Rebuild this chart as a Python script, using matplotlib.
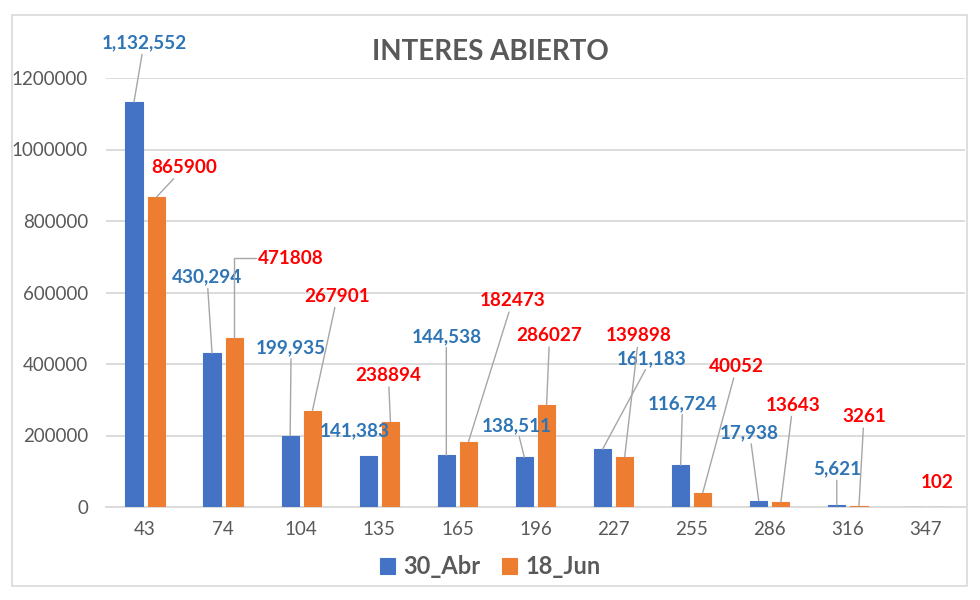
import numpy as np
import matplotlib.pyplot as plt
from matplotlib.patches import Rectangle

plt.rcParams['font.family'] = ['Lato', 'DejaVu Sans']

dias = ['43', '74', '104', '135', '165', '196', '227', '255', '286', '316', '347']
abr_30 = [1132552, 430294, 199935, 141383, 144538, 138511, 161183, 116724, 17938, 5621, 0]
jun_18 = [865900, 471808, 267901, 238894, 182473, 286027, 139898, 40052, 13643, 3261, 102]

# label offsets from bar top, in pixels (dx, dy); None = no label
abr_off = [(10, 59), (-5, 76), (1, 88), (-13, 26), (0, 119), (-8, 32), (49, 91), (2, 62), (-9, 68), (0, 36), None]
abr_lead = [True, True, True, False, True, True, True, True, True, True, False]
jun_off = [(28, 30), (57, 80), (25, 115), (-2, 46), (44, 141), (3, 69), (14, 121), (34, 126), (12, 97), (5, 89), (0, 24)]
jun_lead = [True, 'elbow', True, True, True, True, True, True, True, True, False]

c_abr = '#4472C4'
c_jun = '#ED7D31'
c_lab_abr = '#2E75B6'
c_lab_jun = '#FF0000'
gris = '#595959'

fig = plt.figure(figsize=(9.8, 6), dpi=100)
ax = fig.add_axes([106 / 980, 93 / 600, 859 / 980, 429 / 600])

x = np.arange(len(dias))
w = 0.22
off = 0.142
b1 = ax.bar(x - off, abr_30, w, color=c_abr, edgecolor=c_abr, linewidth=0.8,
            label='30_Abr', zorder=3)
b2 = ax.bar(x + off, jun_18, w, color=c_jun, edgecolor=c_jun, linewidth=0.8,
            label='18_Jun', zorder=3)

ax.set_xlim(-0.5, len(dias) - 0.5)
ax.set_ylim(0, 1200000)
ax.set_yticks(np.arange(0, 1200001, 200000))
ax.set_yticklabels([str(v) for v in range(0, 1200001, 200000)])
ax.set_xticks(x)
ax.set_xticklabels(dias)
ax.tick_params(axis='both', length=0, labelsize=13.5, colors=gris)
ax.tick_params(axis='y', pad=13)
ax.tick_params(axis='x', pad=10)
ax.yaxis.grid(True, color='#D9D9D9', linewidth=1.3, zorder=0)
for s in ['top', 'right', 'left']:
    ax.spines[s].set_visible(False)
ax.spines['bottom'].set_color('#D9D9D9')
ax.spines['bottom'].set_linewidth(1.3)
ax.spines['bottom'].set_zorder(2)


def etiquetas(xs, vals, offs, leads, texto, color):
    for xi, v, o, ld in zip(xs, vals, offs, leads):
        if o is None:
            continue
        props = None
        if ld == 'elbow':
            props = dict(arrowstyle='-', color='#A6A6A6', lw=1, shrinkA=0, shrinkB=0,
                         relpos=(0, 0.5), connectionstyle='angle,angleA=0,angleB=90,rad=0')
        elif ld:
            props = dict(arrowstyle='-', color='#A6A6A6', lw=1, shrinkA=0, shrinkB=0)
        ax.annotate(texto(v), xy=(xi, v), xytext=o, textcoords='offset pixels',
                    ha='center', va='center', fontsize=13.6, fontweight='bold',
                    color=color, arrowprops=props, zorder=5)


etiquetas(x - off, abr_30, abr_off, abr_lead, lambda v: f'{v:,}', c_lab_abr)
etiquetas(x + off, jun_18, jun_off, jun_lead, lambda v: f'{v}', c_lab_jun)

fig.text(0.5, 1 - 52 / 600, 'INTERES ABIERTO', ha='center', va='center',
         fontsize=20, fontweight='bold', color=gris)

leg = fig.legend(handles=[b1, b2], loc='center', bbox_to_anchor=(0.5, 1 - 567 / 600),
                 ncol=2, frameon=False, handlelength=0.65, handleheight=0.65,
                 handletextpad=0.35, columnspacing=0.9,
                 prop={'size': 17, 'weight': 'bold'})
for t in leg.get_texts():
    t.set_color(gris)

# chart frame
fig.add_artist(Rectangle((12 / 980, 1 - 586 / 600), 955 / 980, 571 / 600,
                         transform=fig.transFigure, fill=False,
                         edgecolor='#D9D9D9', linewidth=1.2))

plt.savefig('out.png')
